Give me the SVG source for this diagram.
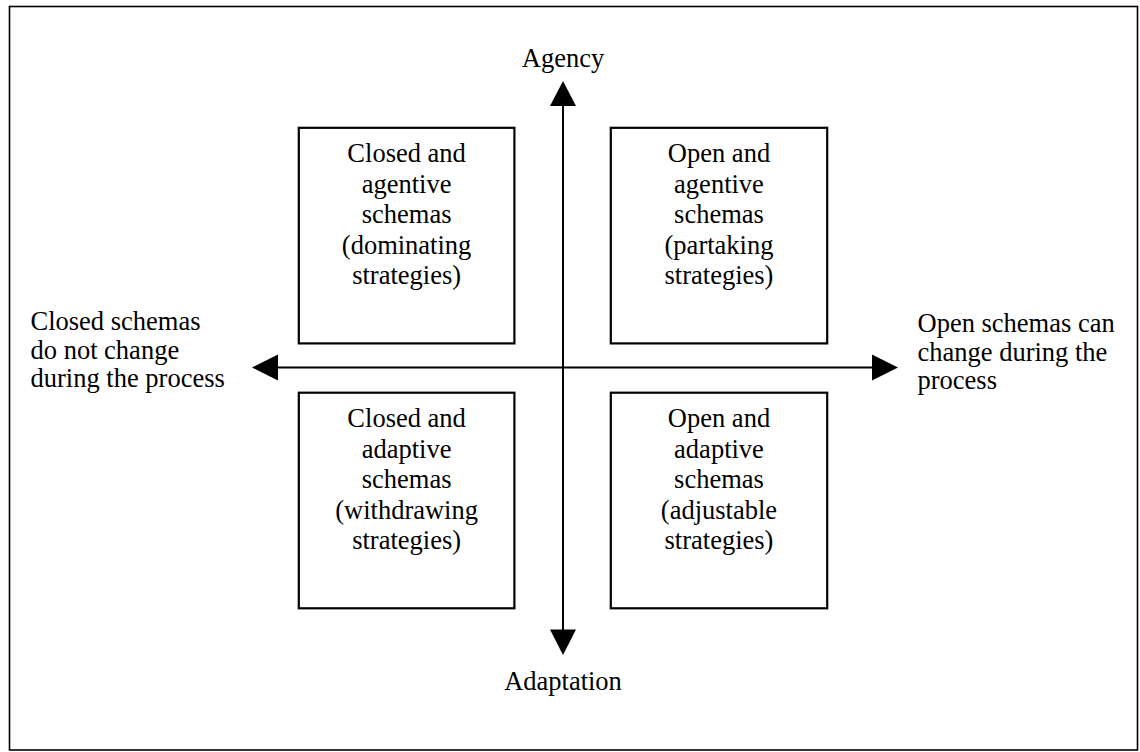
<svg xmlns="http://www.w3.org/2000/svg" width="1140" height="752" viewBox="0 0 1140 752">
<style>
.t{font-family:"Liberation Serif","Times New Roman",serif;font-size:26.5px;fill:#000}
.c{text-anchor:middle}
.box{fill:#fff;stroke:#000;stroke-width:2.2}
.ax{stroke:#000;stroke-width:2;fill:none}
.ah{fill:#000}
</style>
<rect x="9.5" y="6.5" width="1128" height="743.5" fill="#fff" stroke="#000" stroke-width="1.6"/>
<g id="connectors">
<line class="ax" x1="563" y1="104" x2="563" y2="631"/>
<line class="ax" x1="276" y1="367.5" x2="874" y2="367.5"/>
<polygon class="ah" points="563,81 550,106 576,106"/>
<polygon class="ah" points="563,655 550,629.5 576,629.5"/>
<polygon class="ah" points="252,367.5 278,354.5 278,380.5"/>
<polygon class="ah" points="898,367.5 872,354.5 872,380.5"/>
</g>
<g id="agency"><text class="t c" x="563" y="66.5">Agency</text></g>
<g id="adaptation"><text class="t c" x="563" y="690">Adaptation</text></g>
<g id="closed-label">
<text class="t" x="30.5" y="330">Closed schemas</text>
<text class="t" x="30.5" y="358.5">do not change</text>
<text class="t" x="30.5" y="387">during the process</text>
</g>
<g id="open-label">
<text class="t" x="917.5" y="332">Open schemas can</text>
<text class="t" x="917.5" y="360.5">change during the</text>
<text class="t" x="917.5" y="389">process</text>
</g>
<g id="closed-agentive">
<rect class="box" x="298.8" y="127.8" width="215.6" height="215.6"/>
<text class="t c" x="406.6" y="162.3">Closed and</text>
<text class="t c" x="406.6" y="192.8">agentive</text>
<text class="t c" x="406.6" y="223.3">schemas</text>
<text class="t c" x="406.6" y="253.8">(dominating</text>
<text class="t c" x="406.6" y="284.3">strategies)</text>
</g>
<g id="open-agentive">
<rect class="box" x="610.8" y="127.8" width="216.4" height="215.6"/>
<text class="t c" x="719" y="162.3">Open and</text>
<text class="t c" x="719" y="192.8">agentive</text>
<text class="t c" x="719" y="223.3">schemas</text>
<text class="t c" x="719" y="253.8">(partaking</text>
<text class="t c" x="719" y="284.3">strategies)</text>
</g>
<g id="closed-adaptive">
<rect class="box" x="298.8" y="392.7" width="215.6" height="215.6"/>
<text class="t c" x="406.6" y="427.3">Closed and</text>
<text class="t c" x="406.6" y="457.8">adaptive</text>
<text class="t c" x="406.6" y="488.3">schemas</text>
<text class="t c" x="406.6" y="518.8">(withdrawing</text>
<text class="t c" x="406.6" y="549.3">strategies)</text>
</g>
<g id="open-adaptive">
<rect class="box" x="610.8" y="392.7" width="216.4" height="215.6"/>
<text class="t c" x="719" y="427.3">Open and</text>
<text class="t c" x="719" y="457.8">adaptive</text>
<text class="t c" x="719" y="488.3">schemas</text>
<text class="t c" x="719" y="518.8">(adjustable</text>
<text class="t c" x="719" y="549.3">strategies)</text>
</g>
</svg>
